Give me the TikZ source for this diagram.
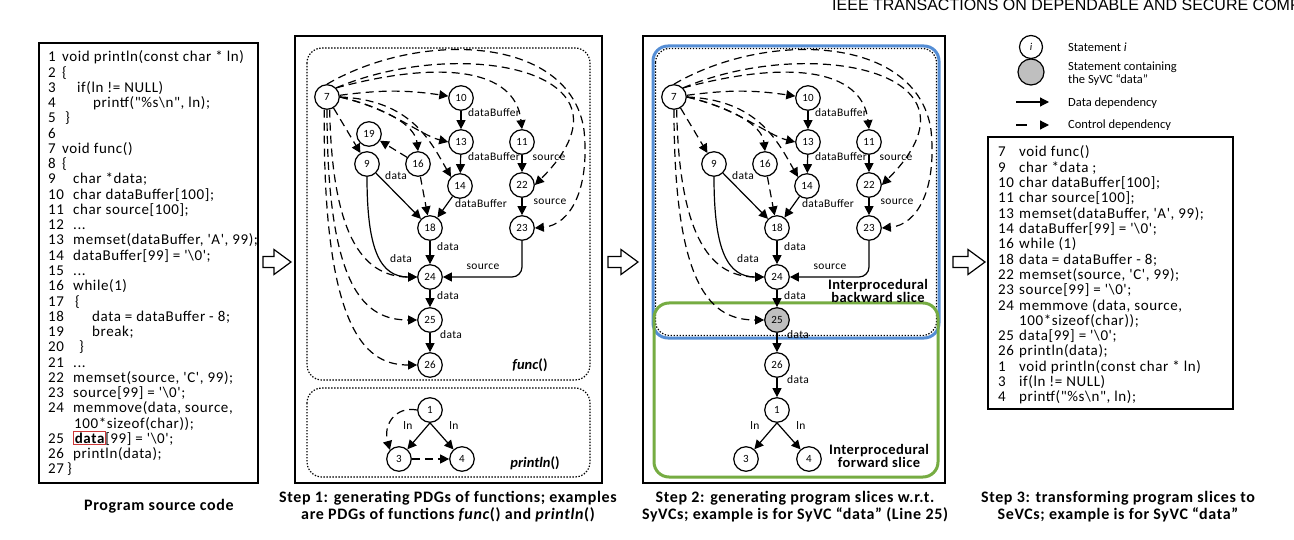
\documentclass[tikz,border=0pt]{standalone}
\usepackage{fontspec}
\setmainfont{Carlito}
\newfontfamily\codefont{Carlito}[LetterSpace=4]
\newfontfamily\hdrfont{Liberation Sans}
\usetikzlibrary{arrows.meta}
\definecolor{nodegray}{RGB}{191,191,191}
\definecolor{sliceblue}{RGB}{85,142,213}
\definecolor{slicegreen}{RGB}{118,172,66}
\definecolor{markred}{RGB}{205,55,55}
\tikzset{
 codetext/.style={font=\codefont\fontsize{15}{15}\selectfont, anchor=base west, inner sep=0pt},
 stmt/.style={circle, draw, line width=1.2pt, minimum size=24.5pt, inner sep=0pt, fill=white, font=\fontsize{11}{12}\selectfont},
 dat/.style={line width=1.2pt, -{Triangle[length=9pt,width=9pt]}},
 ctl/.style={dat, dash pattern=on 8pt off 5pt},
 lbl/.style={font=\fontsize{11.5}{12}\selectfont\addfontfeatures{LetterSpace=3}, inner sep=0pt},
 panel/.style={draw, line width=1.4pt},
 dotbox/.style={draw, line width=1.2pt, dash pattern=on 1.4pt off 1.6pt, rounded corners=15pt},
 captext/.style={font=\bfseries\fontsize{16}{17}\selectfont\addfontfeatures{LetterSpace=4}, align=center, inner sep=0pt},
 slicetext/.style={font=\bfseries\fontsize{14.5}{12}\selectfont\addfontfeatures{LetterSpace=3}, align=center, inner sep=0pt},
 legtext/.style={font=\fontsize{12.5}{13}\selectfont, anchor=west, inner sep=0pt, align=left},
 harrow/.style={draw, line width=1.2pt, fill=white},
}
\newcommand\lsrc[4]{\node[codetext] (l#1n) at (48,#2) {#1}; \node[codetext] (l#1t) at (#3,#2) {#4};}
\newcommand\rsrc[3]{\node[codetext] (r#1n) at (998,#2) {#1}; \node[codetext] (r#1t) at (1019,#2) {#3};}
\newcommand\hollowarrow[4]{\draw[harrow] (#2,{#4-5.5}) -- ({#3-17},{#4-5.5}) -- ({#3-17},{#4-12.5}) -- (#3,#4) -- ({#3-17},{#4+12.5}) -- ({#3-17},{#4+5.5}) -- (#2,{#4+5.5}) -- cycle;}
\newcommand\pdg[2]{%
 \node[stmt] (#1n7) at (327,97) {7};
 \node[stmt] (#1n10) at (461,98) {10};
 \node[stmt] (#1n13) at (461,142) {13};
 \node[stmt] (#1n11) at (522,142) {11};
 \node[stmt] (#1n9) at (367,164) {9};
 \node[stmt] (#1n16) at (418,164) {16};
 \node[stmt] (#1n14) at (460,186) {14};
 \node[stmt] (#1n22) at (522,185) {22};
 \node[stmt] (#1n18) at (430,228) {18};
 \node[stmt] (#1n23) at (522,228) {23};
 \node[stmt] (#1n24) at (430,277) {24};
 \node[stmt, fill=#2] (#1n25) at (430,320) {25};
 \node[stmt] (#1n26) at (430,365) {26};
 \node[stmt] (#1n1) at (430,410) {1};
 \node[stmt] (#1n3) at (399,459) {3};
 \node[stmt] (#1n4) at (462,459) {4};
 \draw[dat] (#1n10) -- (#1n13);
 \draw[dat] (#1n13) -- (#1n14);
 \draw[dat] (#1n11) -- (#1n22);
 \draw[dat] (#1n22) -- (#1n23);
 \draw[dat] (#1n9) -- (#1n18);
 \draw[dat] (#1n14) -- (#1n18);
 \draw[dat] (#1n18) -- (#1n24);
 \draw[dat] (#1n24) -- (#1n25);
 \draw[dat] (#1n25) -- (#1n26);
 \draw[dat] (#1n9.south) .. controls (367,250) and (380,277) .. (#1n24.west);
 \draw[dat, rounded corners=10pt] (#1n23.south) |- (#1n24.east);
 \draw[dat] (#1n1.south) -- (#1n3);
 \draw[dat] (#1n1.south) -- (#1n4);
 \draw[ctl] (#1n7) -- (#1n9);
 \draw[ctl] (#1n16) -- (#1n18);
 \draw[ctl] (#1n7) to[bend left=8] (#1n10);
 \draw[ctl] (#1n7.east) .. controls (390,108) and (420,135) .. (#1n13.west);
 \draw[ctl] (#1n7.east) .. controls (385,108) and (415,125) .. (#1n16.north);
 \draw[ctl] (#1n7.east) .. controls (410,100) and (430,140) .. (#1n14.north west);
 \draw[ctl] (#1n7.north east) .. controls (440,60) and (515,68) .. (#1n11.north);
 \draw[ctl] (#1n7.north east) .. controls (460,35) and (650,70) .. (#1n22.east);
 \draw[ctl] (#1n7.north) .. controls (420,30) and (570,35) .. (584,130) .. controls (590,190) and (570,225) .. (#1n23.east);
 \draw[ctl] (#1n7.270) .. controls (327,290) and (365,320) .. (#1n25.west);
 \draw[ctl] (#1n7.282) .. controls (332,230) and (360,277) .. (#1n24.west);
 \node[lbl] (#1la) at (494,113) {dataBuffer};
 \node[lbl] (#1lb) at (494,157) {dataBuffer};
 \node[lbl] (#1lc) at (549,158) {source};
 \node[lbl] (#1ld) at (550,202) {source};
 \node[lbl] (#1le) at (481,204) {dataBuffer};
 \node[lbl] (#1lf) at (396,176) {data};
 \node[lbl] (#1lg) at (401,259) {data};
 \node[lbl] (#1lh) at (448,247) {data};
 \node[lbl] (#1li) at (483,267) {source};
 \node[lbl] (#1lj) at (448,296) {data};
 \node[lbl] (#1lk) at (451,335) {data};
 \node[lbl] (#1ll) at (408,426) {ln};
 \node[lbl] (#1lm) at (454,426) {ln};
}
\begin{document}
\begin{tikzpicture}[x=1pt,y=-1pt]
\useasboundingbox (0,0) rectangle (1294,540);
\fill[white] (0,0) rectangle (1294,540);
% header
\node[font=\hdrfont\fontsize{16}{16}\selectfont, anchor=base west, inner sep=0pt] (hdr) at (832,10.5) {IEEE TRANSACTIONS ON DEPENDABLE AND SECURE COMPUTING};
% panels
\draw[panel] (39,43) rectangle (258,483);
\draw[panel] (295,36) rectangle (602,483);
\draw[panel] (643,36) rectangle (945,483);
\draw[panel] (988,137) rectangle (1233,409);
% hollow arrows
\hollowarrow{ha1}{263}{291}{262}
\hollowarrow{ha2}{608}{638}{262}
\hollowarrow{ha3}{953}{985}{262}
% source code
\lsrc{1}{62}{62}{void println(const char * ln)}
\lsrc{2}{77.25}{62}{\{}
\lsrc{3}{92.5}{77}{if(ln != NULL)}
\lsrc{4}{107.75}{93}{printf("\%s\textbackslash n", ln);}
\lsrc{5}{123}{65}{\}}
\node[codetext] (l6n) at (48,138.25) {6};
\lsrc{7}{153.5}{62}{void func()}
\lsrc{8}{168.75}{62}{\{}
\lsrc{9}{184}{73}{char *data;}
\lsrc{10}{199.25}{73}{char dataBuffer[100];}
\lsrc{11}{214.5}{73}{char source[100];}
\lsrc{12}{229.75}{73}{...}
\lsrc{13}{245}{73}{memset(dataBuffer, 'A', 99);}
\lsrc{14}{260.25}{73}{dataBuffer[99] = '\textbackslash 0';}
\lsrc{15}{275.5}{73}{...}
\lsrc{16}{290.75}{73}{while(1)}
\lsrc{17}{306}{75}{\{}
\lsrc{18}{321.25}{92}{data = dataBuffer - 8;}
\lsrc{19}{336.5}{92}{break;}
\lsrc{20}{351.75}{79}{\}}
\lsrc{21}{367}{73}{...}
\lsrc{22}{382.25}{73}{memset(source, 'C', 99);}
\lsrc{23}{397.5}{73}{source[99] = '\textbackslash 0';}
\lsrc{24}{412.75}{73}{memmove(data, source,}
\node[codetext] (l24w) at (74,428) {100*sizeof(char));};
\node[codetext] (l25n) at (48,443.25) {25};
\node[codetext, draw=markred, line width=1.3pt, inner sep=1.2pt] (l25d) at (73,443.25) {\bfseries data};
\node[codetext] (l25t) at ([xshift=-1.2pt]l25d.base east) {[99] = '\textbackslash 0';};
\lsrc{26}{458.5}{73}{println(data);}
\lsrc{27}{473.75}{67}{\}}
% step 1
\draw[dotbox] (307,48) rectangle (590,380);
\draw[dotbox] (307,388) rectangle (590,477);
\pdg{a}{white}
\node[stmt] (an19) at (369,134) {19};
\draw[ctl] (an16) -- (an19);
\draw[ctl] (an7.258) .. controls (322,340) and (370,365) .. (an26.west);
\draw[ctl] (an1.west) .. controls (395,406) and (383,425) .. (an3.north west);
\draw[ctl] (an3) -- (an4);
\node[font=\bfseries\fontsize{14.5}{15}\selectfont, inner sep=0pt] (afunc) at (530,365) {\textit{func}()};
\node[font=\bfseries\fontsize{14.5}{15}\selectfont, inner sep=0pt] (aprint) at (535,463) {\textit{println}()};
% step 2
\draw[dotbox, rounded corners=14pt] (655.5,48.5) rectangle (936.5,335.5);
\draw[sliceblue, line width=3pt, rounded corners=15pt] (653,46) rectangle (939,338);
\draw[slicegreen, line width=3pt, rounded corners=15pt] (654,303) rectangle (938,477);
\begin{scope}[xshift=347pt]
\pdg{b}{nodegray}
\draw[dat] (bn26) -- (bn1);
\node[lbl] (bln) at (451,380) {data};
\end{scope}
\node[slicetext] (bwd) at (878,291) {Interprocedural\\backward slice};
\node[slicetext] (fwd) at (879,456) {Interprocedural\\forward slice};
% legend
\node[stmt, minimum size=23pt, font=\itshape\fontsize{10.5}{12}\selectfont] (lgi) at (1031,47) {i};
\node[stmt, fill=nodegray, minimum size=26pt] (lgs) at (1031,72) {};
\node[legtext] (lgt1) at (1068,47) {Statement \textit{i}};
\node[legtext] (lgt2) at (1068,74) {Statement containing\\the SyVC “data”};
\coordinate (lgd1) at (1016,102);
\coordinate (lgd2) at (1049,102);
\draw[dat] (lgd1) -- (lgd2);
\node[legtext] (lgt3) at (1068,103) {Data dependency};
\coordinate (lgc1) at (1016,125);
\coordinate (lgc2) at (1049,125);
\draw[dat, dash pattern=on 11pt off 15pt] (lgc1) -- (lgc2);
\node[legtext] (lgt4) at (1068,125) {Control dependency};
% step 3
\rsrc{7}{157}{void func()}
\rsrc{9}{172.3}{char *data ;}
\rsrc{10}{187.6}{char dataBuffer[100];}
\rsrc{11}{202.9}{char source[100];}
\rsrc{13}{218.2}{memset(dataBuffer, 'A', 99);}
\rsrc{14}{233.5}{dataBuffer[99] = '\textbackslash 0';}
\rsrc{16}{248.8}{while (1)}
\rsrc{18}{264.1}{data = dataBuffer - 8;}
\rsrc{22}{279.4}{memset(source, 'C', 99);}
\rsrc{23}{294.7}{source[99] = '\textbackslash 0';}
\rsrc{24}{310}{memmove (data, source,}
\node[codetext] (r24w) at (1019,325.3) {100*sizeof(char));};
\rsrc{25}{340.6}{data[99] = '\textbackslash 0';}
\rsrc{26}{355.9}{println(data);}
\rsrc{1}{371.2}{void println(const char * ln)}
\rsrc{3}{386.5}{if(ln != NULL)}
\rsrc{4}{401.8}{printf("\%s\textbackslash n", ln);}
% captions
\node[captext] (c0) at (159,506) {Program source code};
\node[captext] (c1) at (448,507) {Step 1: generating PDGs of functions; examples\\are PDGs of functions \textit{func}() and \textit{println}()};
\node[captext] (c2) at (795,507) {Step 2: generating program slices w.r.t.\\SyVCs; example is for SyVC “data” (Line 25)};
\node[captext] (c3) at (1118,507) {Step 3: transforming program slices to\\SeVCs; example is for SyVC “data”};
\end{tikzpicture}
\end{document}
